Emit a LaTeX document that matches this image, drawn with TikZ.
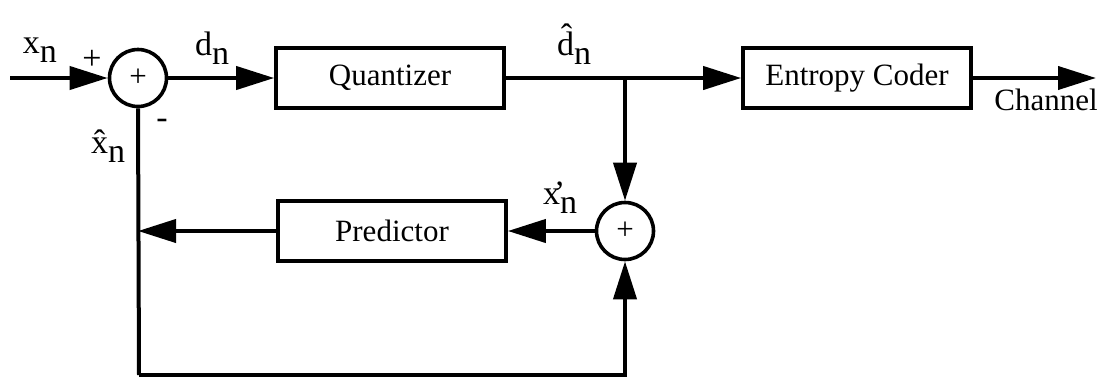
\documentclass[tikz,border=0pt]{standalone}
\usepackage{fontspec}
\setmainfont{Liberation Serif}
\usetikzlibrary{arrows.meta,positioning}
\newcommand{\sig}[2]{#1\raisebox{-0.6ex}{#2}}

\begin{document}
\begin{tikzpicture}[
x=0.5pt, y=-0.5pt,
font=\fontsize{15.5}{18}\selectfont,
block/.style={draw, line width=1.8pt, minimum width=114pt, minimum height=30pt, inner sep=0pt},
sumnode/.style={draw, circle, line width=1.8pt, minimum size=28.5pt, inner sep=0pt},
siglabel/.style={font=\fontsize{17}{20}\selectfont, inner sep=1pt},
arrow/.style={-{Triangle[length=19pt, width=11.5pt]}, line width=2pt},
wire/.style={line width=2pt}
]
\useasboundingbox (0,0) rectangle (1102,381);

\node[sumnode] (sum1) at (138,78) {+};
\node[block] (quant) at (390,78) {Quantizer};
\node[block] (coder) at (857,78) {Entropy Coder};
\node[sumnode] (sum2) at (625,231) {+};
\node[block] (pred) at (392,231) {Predictor};

\coordinate (in) at (10,78);
\coordinate (out) at (1096,78);
\coordinate (split) at (625,78);
\coordinate (corner) at (139,375);

\node[siglabel] (xin) at (40,50) {\sig{x}{n}};
\node[siglabel] (plus) at (92,60) {+};
\node[siglabel] (minus) at (162,124) {-};
\node[siglabel] (dn) at (212,48) {\sig{d}{n}};
\node[siglabel] (dhat) at (574,44) {\sig{\^{d}}{n}};
\node[siglabel] (xhat) at (108,146) {\sig{\^{x}}{n}};
\node[siglabel] (xprime) at (560,198) {x\raisebox{-0.6ex}{n}\llap{'\hspace{0.35em}}};
\node (chan) at (1046,100) {Channel};

\draw[arrow] (in) -- (sum1);
\draw[arrow] (sum1) -- (quant);
\draw[arrow] (quant) -- (coder);
\draw[arrow] (coder) -- (out);
\draw[arrow] (split) -- (sum2);
\draw[arrow] (sum2) -- (pred);
\draw[arrow] (pred.west) -- (pred.west -| sum1);
\draw[wire] (sum1.south) -- (corner);
\draw[arrow] (corner) -| (sum2.south);
\end{tikzpicture}
\end{document}
